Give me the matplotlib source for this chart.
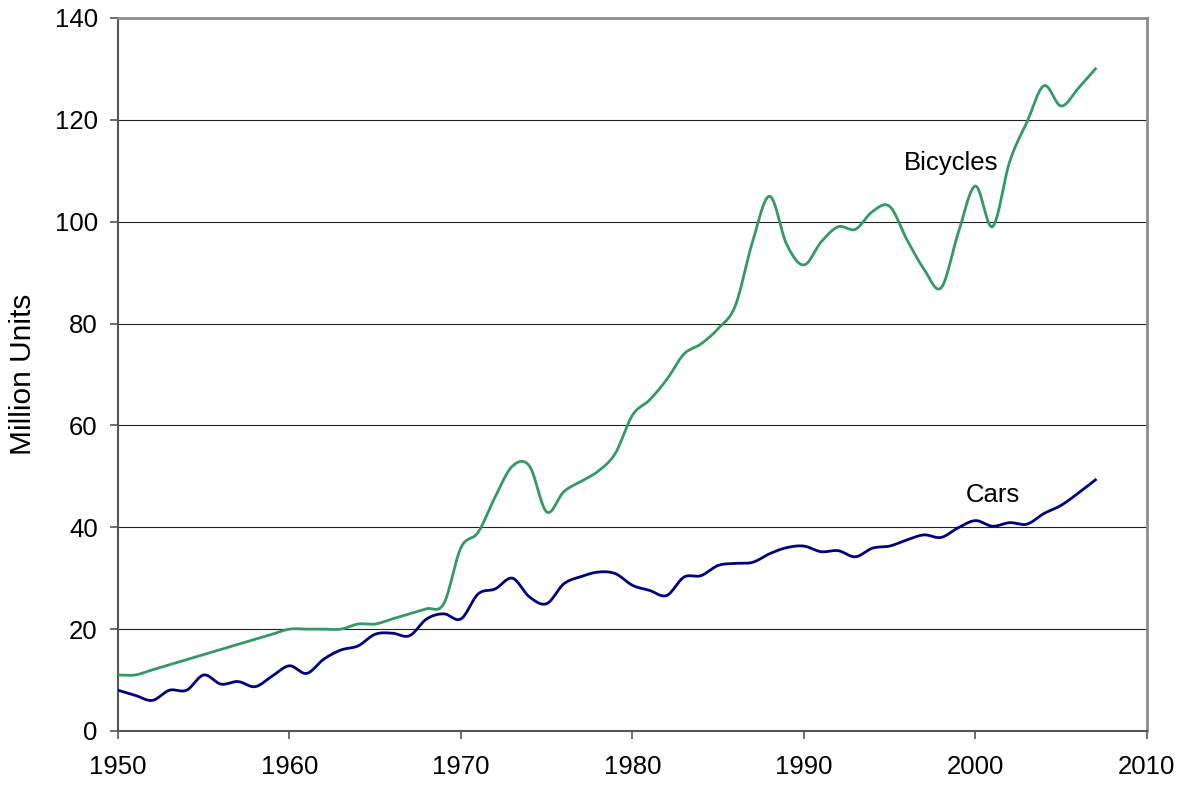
import numpy as np
import matplotlib
matplotlib.use("Agg")
import matplotlib.pyplot as plt

# World production, million units
years = list(range(1950, 2008))
bicycles = [11, 11, 12, 13, 14, 15, 16, 17, 18, 19,
            20, 20, 20, 20, 21, 21, 22, 23, 24, 25,
            36, 39, 46, 52, 52, 43, 47, 49, 51, 54.5,
            62, 65, 69, 74, 76, 79, 83.5, 96, 105, 95.5,
            91.5, 96, 99, 98.5, 102, 103, 96.5, 90.7, 87, 97.8,
            107, 99, 111.8, 119.5, 126.7, 122.7, 126.2, 130]
cars = [8, 7, 6, 8, 8, 11, 9.2, 9.7, 8.7, 10.8,
        12.8, 11.3, 14.1, 15.9, 16.7, 19, 19.2, 18.7, 22, 23,
        22, 26.9, 27.9, 30, 26.3, 25, 28.9, 30.3, 31.2, 30.9,
        28.6, 27.6, 26.6, 30.2, 30.5, 32.5, 32.9, 33.1, 34.8, 36,
        36.3, 35.2, 35.4, 34.2, 35.9, 36.3, 37.5, 38.5, 38, 39.9,
        41.3, 40.2, 40.9, 40.6, 42.7, 44.3, 46.7, 49.3]

plt.rcParams["font.family"] = ["Liberation Sans", "DejaVu Sans"]


def smooth(x, y, n=12):
    # Catmull-Rom drawing, like the spreadsheet "smoothed line" option
    x = np.asarray(x, float)
    y = np.asarray(y, float)
    px = np.concatenate([[2 * x[0] - x[1]], x, [2 * x[-1] - x[-2]]])
    py = np.concatenate([[2 * y[0] - y[1]], y, [2 * y[-1] - y[-2]]])
    t = np.linspace(0, 1, n, endpoint=False)
    xs, ys = [], []
    for i in range(1, len(px) - 2):
        for p, out in ((px, xs), (py, ys)):
            p0, p1, p2, p3 = p[i - 1], p[i], p[i + 1], p[i + 2]
            out.extend(0.5 * (2 * p1 + (-p0 + p2) * t
                              + (2 * p0 - 5 * p1 + 4 * p2 - p3) * t ** 2
                              + (-p0 + 3 * p1 - 3 * p2 + p3) * t ** 3))
    xs.append(x[-1])
    ys.append(y[-1])
    return xs, ys


fig = plt.figure(figsize=(11.86, 7.87), dpi=100)
ax = fig.add_axes([0.0995, 0.0712, 0.8675, 0.906])

ax.plot(*smooth(years, bicycles), color="#339966", linewidth=2.0, zorder=3)
ax.plot(*smooth(years, cars), color="#000080", linewidth=2.0, zorder=3)

ax.text(1998.6, 111.5, "Bicycles", fontsize=18.5, ha="center", va="center")
ax.text(2001.0, 46.3, "Cars", fontsize=18.5, ha="center", va="center")

ax.set_xlim(1950, 2010)
ax.set_ylim(0, 140)
ax.set_xticks(np.arange(1950, 2011, 10))
ax.set_yticks(np.arange(0, 141, 20))
ax.yaxis.grid(True, color="#222222", linewidth=0.8)
ax.set_axisbelow(True)
ax.tick_params(axis="both", labelsize=18.5, length=5.5, width=1.2, color="#555555")
ax.tick_params(axis="x", pad=12)
ax.tick_params(axis="y", pad=9)
ax.text(-0.0923, 0.5, "Million Units", fontsize=21.5, rotation=90,
        ha="center", va="center", transform=ax.transAxes)

for side in ["left", "bottom"]:
    ax.spines[side].set_color("#555555")
    ax.spines[side].set_linewidth(1.5)
for side in ["top", "right"]:
    ax.spines[side].set_color("#8c8c8c")
    ax.spines[side].set_linewidth(2)

plt.savefig("out.png", dpi=100)
